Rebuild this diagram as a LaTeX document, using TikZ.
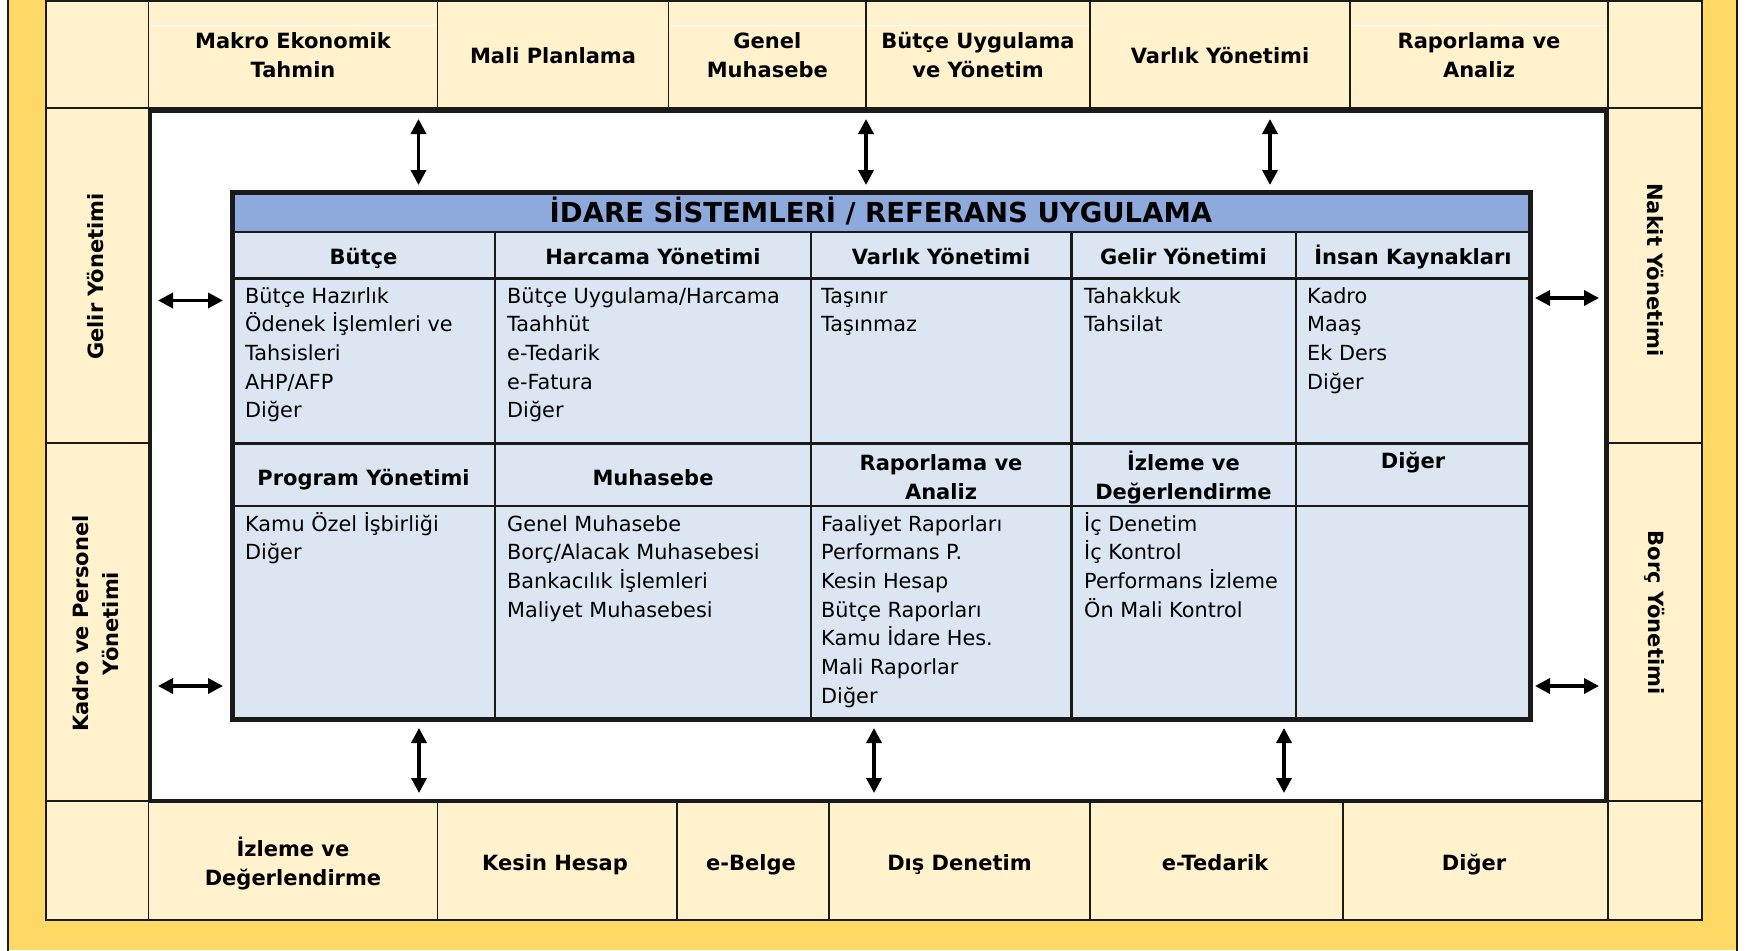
\documentclass[tikz,border=0pt]{standalone}
\usepackage{fontspec}
\setmainfont{DejaVu Sans}
\usetikzlibrary{arrows.meta}
\definecolor{yband}{HTML}{FFD966}
\definecolor{cream}{HTML}{FFF2CC}
\definecolor{lblue}{HTML}{DCE6F2}
\definecolor{tblue}{HTML}{8EA9DB}
\definecolor{ink}{HTML}{1A1A1A}
\tikzset{
  frametxt/.style={font=\bfseries\fontsize{21}{29}\selectfont, inner sep=0pt, anchor=base},
  frametwo/.style={font=\bfseries\fontsize{21}{29}\selectfont, inner sep=0pt, align=center, anchor=north},
  sidetxt/.style={font=\bfseries\fontsize{21}{30}\selectfont, inner sep=0pt},
  headtxt/.style={font=\bfseries\fontsize{21}{29}\selectfont, inner sep=0pt, anchor=base},
  headtwo/.style={font=\bfseries\fontsize{21}{29}\selectfont, inner sep=0pt, align=center, anchor=north},
  bodytxt/.style={font=\fontsize{20.8}{28.7}\selectfont, inner sep=0pt, align=left, anchor=north west},
  gridline/.style={draw=ink, line width=1.4pt},
  dblarrow/.style={draw=black, line width=3.5pt, {Triangle[length=15pt,width=15pt]}-{Triangle[length=15pt,width=15pt]}},
}
\begin{document}
\begin{tikzpicture}[x=1pt,y=-1pt]
\useasboundingbox (0,0) rectangle (1752,950);
% outer yellow band
\fill[yband] (7.7,0) rectangle (1737,950);
\draw[ink, line width=1.8pt] (7.7,-2) -- (7.7,952) (1737,-2) -- (1737,952);
% cream frame
\filldraw[fill=cream, draw=ink, line width=1.6pt] (46,0.8) rectangle (1702,920);
\draw[gridline] (46,108) -- (1702,108) (46,801) -- (1702,801)
  (148.5,0) -- (148.5,920) (1608,0) -- (1608,920)
  (46,443) -- (148.5,443) (1608,443) -- (1702,443);
\foreach \x in {437.5,668.5,866,1090,1350} \draw[gridline] (\x,0) -- (\x,108);
\foreach \x in {437.5,677,829,1090,1343} \draw[gridline] (\x,801) -- (\x,920);
\draw[white, line width=0.8pt] (150,25) -- (436,25) (670,25) -- (864.5,25) (867.5,25) -- (1088.5,25) (1351.5,25) -- (1606.5,25);
% inner white box
\draw[ink, line width=4.5pt, fill=white] (149.8,111) rectangle (1606.5,801);
% table
\fill[lblue] (232,192.5) rectangle (1530.5,719);
\fill[tblue] (232,192.5) rectangle (1530.5,231.5);
\draw[ink, line width=2pt] (232,231.5) -- (1530.5,231.5);
\draw[ink, line width=2.4pt] (232,278.5) -- (1530.5,278.5);
\draw[ink, line width=3pt] (232,443) -- (1530.5,443);
\draw[ink, line width=2.6pt] (232,506) -- (1530.5,506);
\foreach \x in {495,811,1071.5,1296} \draw[ink, line width=2.2pt] (\x,231.5) -- (\x,719);
\draw[ink, line width=5pt] (232,192.5) rectangle (1530.5,719);

% top labels
\node[frametwo] (makro) at (293,28) {\strut Makro Ekonomik\\Tahmin};
\node[frametxt] (mali) at (553,63.3) {Mali Planlama};
\node[frametwo] (genel) at (767.3,28) {\strut Genel\\Muhasebe};
\node[frametwo] (butuyg) at (978,28) {\strut Bütçe Uygulama\\ve Yönetim};
\node[frametxt] (varlikt) at (1220,63.3) {Varlık Yönetimi};
\node[frametwo] (raport) at (1479,28) {\strut Raporlama ve\\Analiz};
% bottom labels
\node[frametwo] (izlemeb) at (293,836.4) {\strut İzleme ve\\Değerlendirme};
\node[frametxt] (kesin) at (555,870) {Kesin Hesap};
\node[frametxt] (ebelge) at (751,870) {e-Belge};
\node[frametxt] (disden) at (959.5,870) {Dış Denetim};
\node[frametxt] (etedb) at (1215,870) {e-Tedarik};
\node[frametxt] (digerb) at (1474,870) {Diğer};
% side labels
\node[sidetxt, rotate=90] (gelir) at (96,276.5) {Gelir Yönetimi};
\node[sidetxt, rotate=90, align=center] (kadro) at (95.5,623.5) {Kadro ve Personel\\Yönetimi};
\node[sidetxt, rotate=-90] (nakit) at (1655,270) {Nakit Yönetimi};
\node[sidetxt, rotate=-90] (borc) at (1655,612.5) {Borç Yönetimi};

% title
\node[font=\bfseries\fontsize{27.5}{30}\selectfont, anchor=base, inner sep=0pt] (title) at (881,222) {İDARE SİSTEMLERİ / REFERANS UYGULAMA};
% header row 1
\node[headtxt] (h11) at (363.5,264) {Bütçe};
\node[headtxt] (h12) at (653,264) {Harcama Yönetimi};
\node[headtxt] (h13) at (941,264) {Varlık Yönetimi};
\node[headtxt] (h14) at (1183.5,264) {Gelir Yönetimi};
\node[headtxt] (h15) at (1413,264) {İnsan Kaynakları};
% body row 1
\node[bodytxt] (b11) at (245,282.9) {\strut Bütçe Hazırlık\\Ödenek İşlemleri ve\\Tahsisleri\\AHP/AFP\\Diğer};
\node[bodytxt] (b12) at (507,282.9) {\strut Bütçe Uygulama/Harcama\\Taahhüt\\e-Tedarik\\e-Fatura\\Diğer};
\node[bodytxt] (b13) at (821,282.9) {\strut Taşınır\\Taşınmaz};
\node[bodytxt] (b14) at (1084,282.9) {\strut Tahakkuk\\Tahsilat};
\node[bodytxt] (b15) at (1307,282.9) {\strut Kadro\\Maaş\\Ek Ders\\Diğer};
% header row 2
\node[headtxt] (h21) at (363.5,485) {Program Yönetimi};
\node[headtxt] (h22) at (653,485) {Muhasebe};
\node[headtwo] (h23) at (941,449.7) {\strut Raporlama ve\\Analiz};
\node[headtwo] (h24) at (1183.5,449.7) {\strut İzleme ve\\Değerlendirme};
\node[headtxt] (h25) at (1413,468) {Diğer};
% body row 2
\node[bodytxt] (b21) at (245,510.9) {\strut Kamu Özel İşbirliği\\Diğer};
\node[bodytxt] (b22) at (507,510.9) {\strut Genel Muhasebe\\Borç/Alacak Muhasebesi\\Bankacılık İşlemleri\\Maliyet Muhasebesi};
\node[bodytxt] (b23) at (821,510.9) {\strut Faaliyet Raporları\\Performans P.\\Kesin Hesap\\Bütçe Raporları\\Kamu İdare Hes.\\Mali Raporlar\\Diğer};
\node[bodytxt] (b24) at (1084,510.9) {\strut İç Denetim\\İç Kontrol\\Performans İzleme\\Ön Mali Kontrol};

% arrows
\coordinate (ta1) at (418.5,119); \coordinate (tb1) at (418.5,185);
\coordinate (ta2) at (866,119);   \coordinate (tb2) at (866,185);
\coordinate (ta3) at (1270,119);  \coordinate (tb3) at (1270,185);
\coordinate (ba1) at (419,728);   \coordinate (bb1) at (419,793);
\coordinate (ba2) at (874,728);   \coordinate (bb2) at (874,793);
\coordinate (ba3) at (1284,728);  \coordinate (bb3) at (1284,793);
\coordinate (la1) at (158,300.5); \coordinate (lb1) at (223,300.5);
\coordinate (la2) at (158,686);   \coordinate (lb2) at (223,686);
\coordinate (ra1) at (1535,298);  \coordinate (rb1) at (1599,298);
\coordinate (ra2) at (1535,686);  \coordinate (rb2) at (1599,686);
\draw[dblarrow] (ta1) -- (tb1);
\draw[dblarrow] (ta2) -- (tb2);
\draw[dblarrow] (ta3) -- (tb3);
\draw[dblarrow] (ba1) -- (bb1);
\draw[dblarrow] (ba2) -- (bb2);
\draw[dblarrow] (ba3) -- (bb3);
\draw[dblarrow] (la1) -- (lb1);
\draw[dblarrow] (la2) -- (lb2);
\draw[dblarrow] (ra1) -- (rb1);
\draw[dblarrow] (ra2) -- (rb2);
\end{tikzpicture}
\end{document}
